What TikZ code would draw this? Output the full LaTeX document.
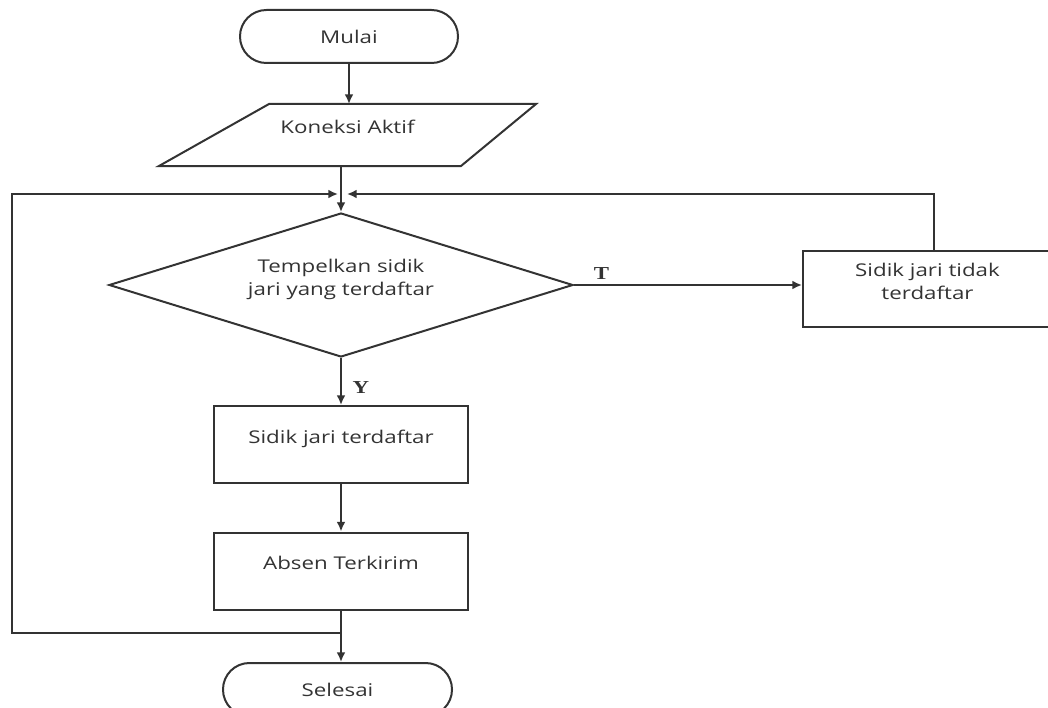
\documentclass[tikz,border=0pt]{standalone}
\usepackage{fontspec}
\setmainfont{Open Sans}[FakeStretch=1.27]
\newfontfamily\lblfont{Liberation Serif}[FakeStretch=1.25]
\usetikzlibrary{shapes.geometric,arrows.meta}

\begin{document}
\begin{tikzpicture}[x=0.25mm, y=-0.25mm, >={Latex[length=2.4mm,width=2.2mm]},
  line width=0.5mm, color=black!80,
  term/.style={draw, rounded corners=6.6mm, minimum width=54.5mm, minimum height=13.25mm,
    font=\fontsize{12.5}{16.3}\selectfont},
  proc/.style={draw, minimum width=63.5mm, minimum height=19.25mm, align=center,
    text depth=4mm, font=\fontsize{12.5}{16.3}\selectfont},
  cond/.style={draw, diamond, aspect=3.2, minimum width=116mm, minimum height=36mm,
    inner sep=0pt, align=center, text depth=4mm, font=\fontsize{12.5}{16.3}\selectfont},
  lbl/.style={font=\lblfont\bfseries\fontsize{13}{16}\selectfont}]
\useasboundingbox (0,0) rectangle (1048,708);

\node[term] (mulai) at (349,36.5) {Mulai};
\node[minimum width=93.75mm, minimum height=15mm, text depth=4mm,
  font=\fontsize{12.5}{16.3}\selectfont] (koneksi) at (347.5,135) {Koneksi Aktif};
\draw (koneksi.south west) -- ([xshift=27.5mm]koneksi.north west) -- (koneksi.north east)
  -- ([xshift=-18.75mm]koneksi.south east) -- cycle;

\coordinate (atas) at (341,194);
\coordinate (bawah) at (341,633);
\coordinate (kiri) at (12,633);

\node[cond] (cek) at (341,285) {Tempelkan sidik\\jari yang terdaftar};
\node[proc, minimum width=62.25mm, minimum height=19mm] (tidak) at (927.5,289)
  {Sidik jari tidak\\terdaftar};
\node[proc] (terdaftar) at (341,444.5) {Sidik jari terdaftar};
\node[proc] (absen) at (341,571) {Absen Terkirim};
\node[term, minimum width=57.25mm] (selesai) at (337.5,689.5) {Selesai};

\draw[->] (mulai.south) -- (mulai.south |- koneksi.north);
\draw (koneksi.south -| atas) -- (atas);
\draw[->] (atas) -- (cek.north);
\draw[->] (cek.east) -- node[lbl, above, pos=0.12] (t) {T} (cek.east -| tidak.west);
\draw[->] ([xshift=1.6mm]tidak.north) |- ([xshift=1.5mm]atas);
\draw[->] (cek.south) -- node[lbl, right, pos=0.63, xshift=1.5mm] (y) {Y} (terdaftar.north);
\draw[->] (terdaftar.south) -- (absen.north);
\draw[->] (absen.south) -- (absen.south |- selesai.north);
\draw[->] (bawah) -- (kiri) |- ([xshift=-0.75mm]atas);
\end{tikzpicture}
\end{document}
